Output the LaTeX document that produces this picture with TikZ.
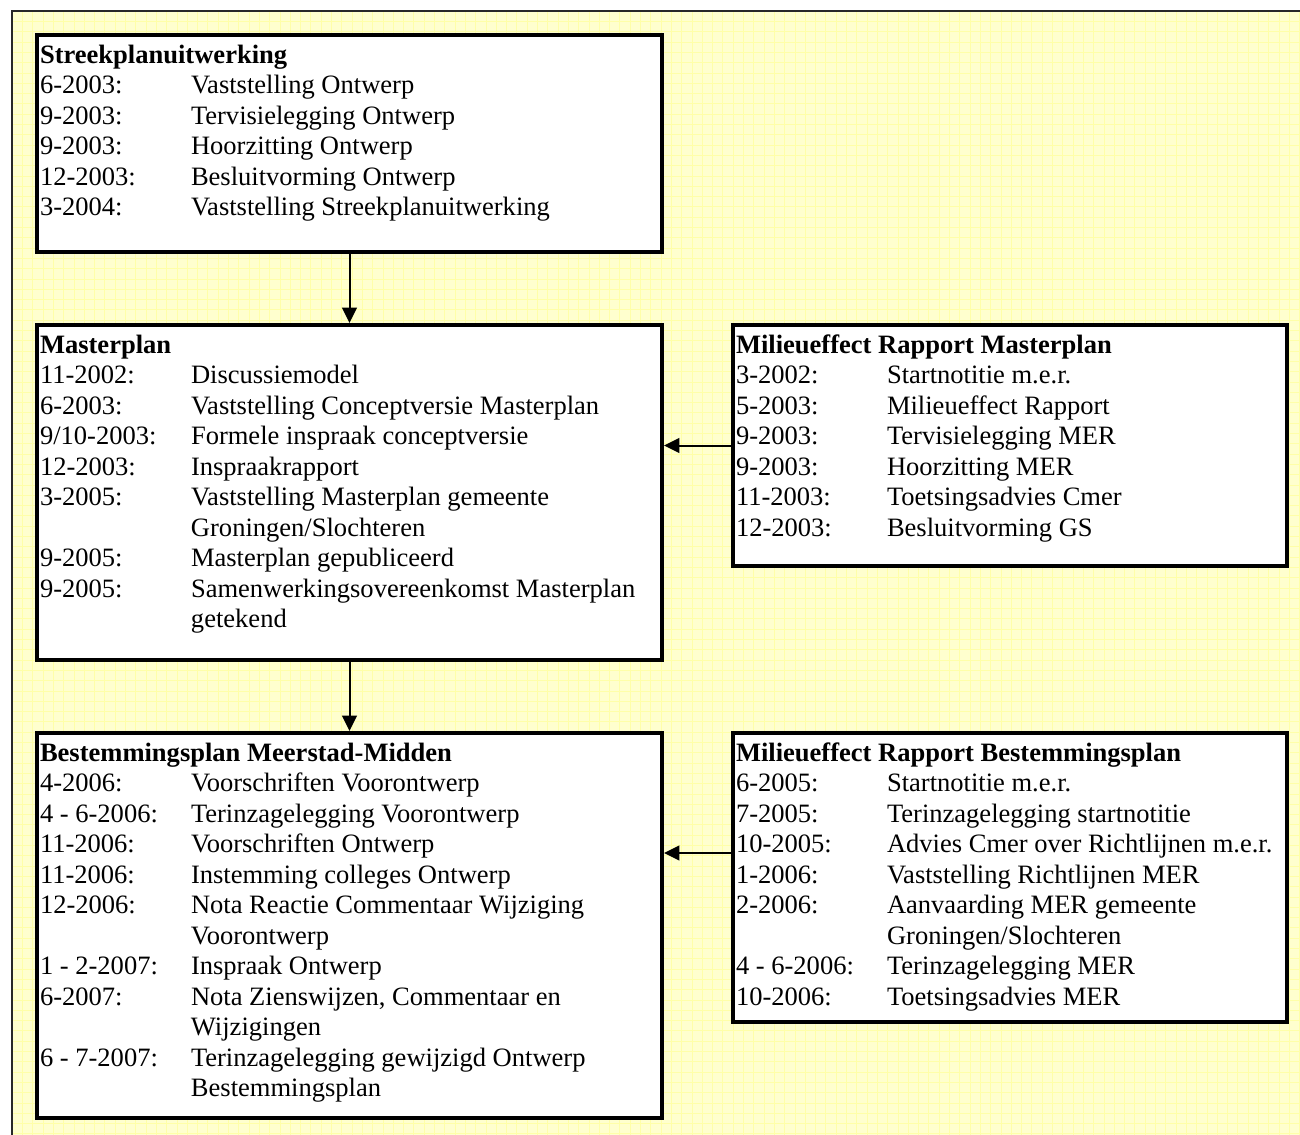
\documentclass[tikz,border=0pt]{standalone}
\usepackage{fontspec}
\setmainfont{Liberation Serif}
\usetikzlibrary{arrows.meta,fit,calc}
\definecolor{paper}{RGB}{255,255,206}
\definecolor{gridline}{RGB}{255,255,168}
\definecolor{framegray}{RGB}{40,40,40}
\newcommand{\boxtitle}[1]{\multicolumn{2}{@{}l@{}}{\textbf{#1}}}
\begin{document}
\begin{tikzpicture}[x=0.75pt,y=-0.75pt,
  stagebox/.style={draw=black,fill=white,line width=3pt,inner sep=0pt},
  stagetext/.style={anchor=base west,inner sep=0pt,outer sep=0pt,
    font=\fontsize{19.9}{22.9}\selectfont},
  flow/.style={line width=1.5pt,-{Triangle[length=11.5pt,width=11pt]}}]
\useasboundingbox (0,0) rectangle (1300,1135);
% paper background with its faint grid
\fill[white] (0,0) rectangle (1300,1135);
\fill[paper] (12,11) rectangle (1300,1135);
\foreach \i in {0,...,125} \draw[gridline,line width=0.35pt] (12+\i*10.3,11) -- (12+\i*10.3,1135);
\foreach \j in {0,...,109} \draw[gridline,line width=0.35pt] (12,11+\j*10.3) -- (1300,11+\j*10.3);
\draw[framegray,line width=1.2pt] (12,1135) -- (12,11) -- (1300,11);

% boxes
\node[stagebox,fit={(37,35) (662,252)}] (b1) {};
\node[stagebox,fit={(37,325) (662,660)}] (b2) {};
\node[stagebox,fit={(733,325) (1287,566)}] (b3) {};
\node[stagebox,fit={(37,733) (662,1118)}] (b4) {};
\node[stagebox,fit={(733,733) (1287,1022)}] (b5) {};

% texts
\node[stagetext] (t1) at ([shift={(5,30)}]b1.north west) {%
\begin{tabular}[t]{@{}p{113.25pt}@{}l@{}}
\boxtitle{Streekplanuitwerking}\\
6-2003: & Vaststelling Ontwerp\\
9-2003: & Tervisielegging Ontwerp\\
9-2003: & Hoorzitting Ontwerp\\
12-2003: & Besluitvorming Ontwerp\\
3-2004: & Vaststelling Streekplanuitwerking
\end{tabular}};

\node[stagetext] (t2) at ([shift={(5,30)}]b2.north west) {%
\begin{tabular}[t]{@{}p{113.25pt}@{}l@{}}
\boxtitle{Masterplan}\\
11-2002: & Discussiemodel\\
6-2003: & Vaststelling Conceptversie Masterplan\\
9/10-2003: & Formele inspraak conceptversie\\
12-2003: & Inspraakrapport\\
3-2005: & Vaststelling Masterplan gemeente\\
 & Groningen/Slochteren\\
9-2005: & Masterplan gepubliceerd\\
9-2005: & Samenwerkingsovereenkomst Masterplan\\
 & getekend
\end{tabular}};

\node[stagetext] (t3) at ([shift={(5,30)}]b3.north west) {%
\begin{tabular}[t]{@{}p{113.25pt}@{}l@{}}
\boxtitle{Milieueffect Rapport Masterplan}\\
3-2002: & Startnotitie m.e.r.\\
5-2003: & Milieueffect Rapport\\
9-2003: & Tervisielegging MER\\
9-2003: & Hoorzitting MER\\
11-2003: & Toetsingsadvies Cmer\\
12-2003: & Besluitvorming GS
\end{tabular}};

\node[stagetext] (t4) at ([shift={(5,30)}]b4.north west) {%
\begin{tabular}[t]{@{}p{113.25pt}@{}l@{}}
\boxtitle{Bestemmingsplan Meerstad-Midden}\\
4-2006: & Voorschriften Voorontwerp\\
4 - 6-2006: & Terinzagelegging Voorontwerp\\
11-2006: & Voorschriften Ontwerp\\
11-2006: & Instemming colleges Ontwerp\\
12-2006: & Nota Reactie Commentaar Wijziging\\
 & Voorontwerp\\
1 - 2-2007: & Inspraak Ontwerp\\
6-2007: & Nota Zienswijzen, Commentaar en\\
 & Wijzigingen\\
6 - 7-2007: & Terinzagelegging gewijzigd Ontwerp\\
 & Bestemmingsplan
\end{tabular}};

\node[stagetext] (t5) at ([shift={(5,30)}]b5.north west) {%
\begin{tabular}[t]{@{}p{113.25pt}@{}l@{}}
\boxtitle{Milieueffect Rapport Bestemmingsplan}\\
6-2005: & Startnotitie m.e.r.\\
7-2005: & Terinzagelegging startnotitie\\
10-2005: & Advies Cmer over Richtlijnen m.e.r.\\
1-2006: & Vaststelling Richtlijnen MER\\
2-2006: & Aanvaarding MER gemeente\\
 & Groningen/Slochteren\\
4 - 6-2006: & Terinzagelegging MER\\
10-2006: & Toetsingsadvies MER
\end{tabular}};

% connectors
\draw[flow] (b1.south) -- (b2.north);
\draw[flow] (b2.south) -- (b4.north);
\draw[flow] (b3.west) -- (b3.west -| b2.east);
\coordinate (m5) at ([yshift=24.5*0.75pt]b5.west);
\draw[flow] (m5) -- (m5 -| b4.east);
\end{tikzpicture}
\end{document}
